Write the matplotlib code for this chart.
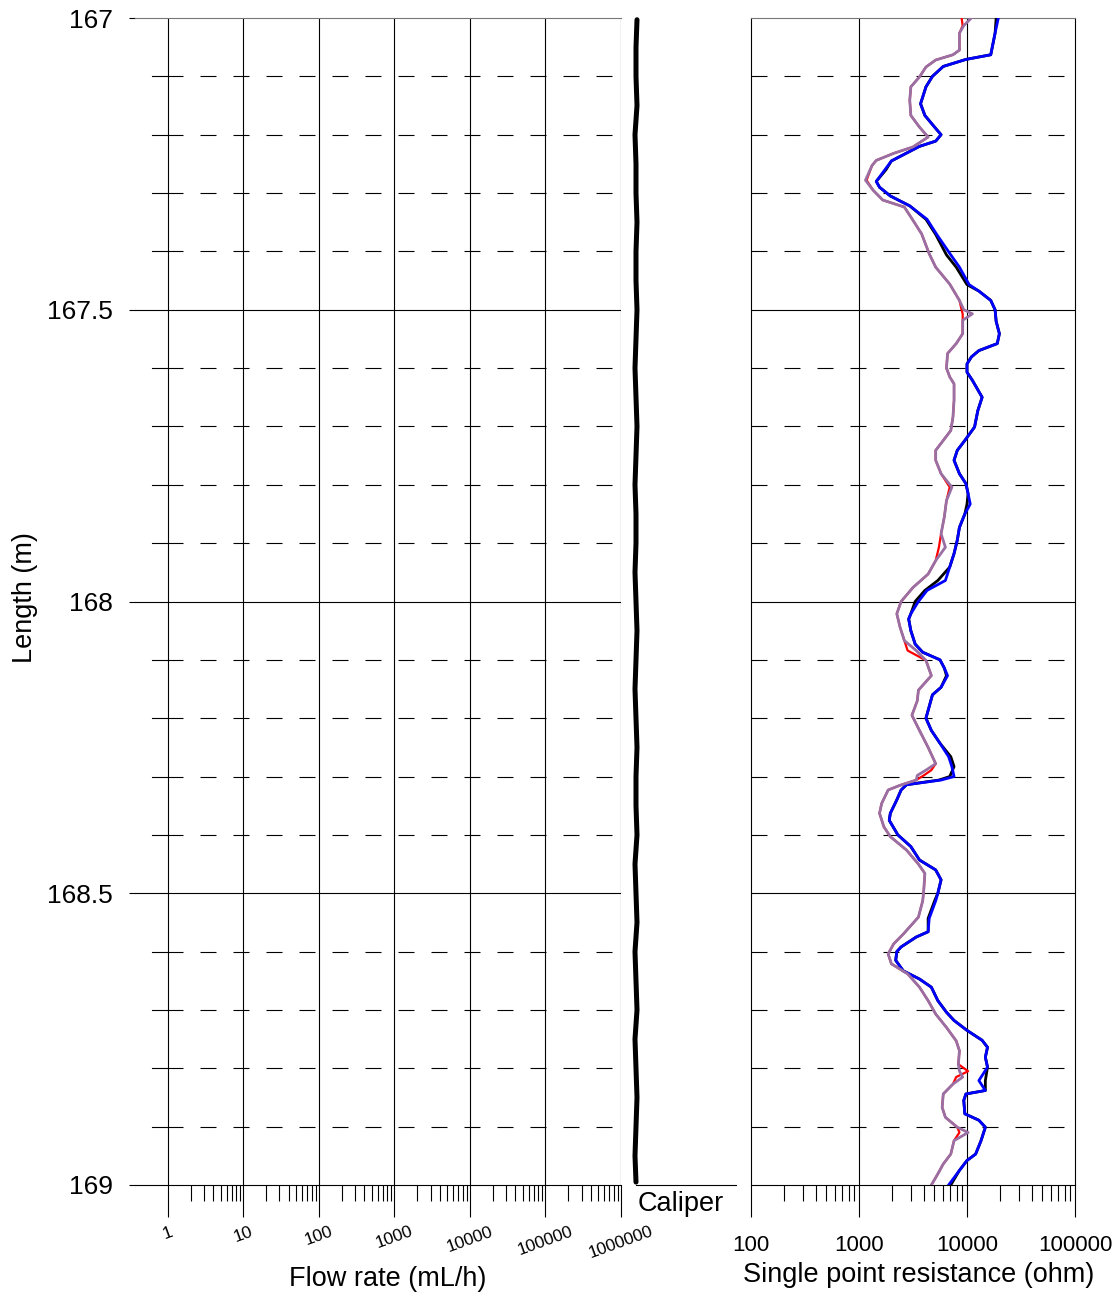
import matplotlib

matplotlib.use("Agg")
import matplotlib.pyplot as plt
import numpy as np

plt.rcParams["font.family"] = ["Liberation Sans", "DejaVu Sans"]
plt.rcParams["lines.scale_dashes"] = False

W, H = 1119, 1297

# flow rate panel (empty log axis)
flow_ticks = [1, 10, 100, 1000, 10000, 100000, 1000000]
flow_labels = ["1", "10", "100", "1000", "10000", "100000", "1000000"]

# single point resistance panel
spr_ticks = [100, 1000, 10000, 100000]
spr_labels = ["100", "1000", "10000", "100000"]

depth_ticks = [167, 167.5, 168, 168.5, 169]
depth_labels = ["167", "167.5", "168", "168.5", "169"]

# black / blue curves (log10 ohm)
bb_depth = [
    167.000, 167.026, 167.063, 167.071, 167.083, 167.100, 167.118, 167.147, 167.167, 167.187,
    167.200, 167.211, 167.220, 167.245, 167.260, 167.280, 167.290, 167.305, 167.322, 167.345,
    167.371, 167.406, 167.427, 167.457, 167.468, 167.484, 167.500, 167.520, 167.541, 167.558,
    167.570, 167.581, 167.593, 167.607, 167.621, 167.650, 167.673, 167.701, 167.724, 167.741,
    167.758, 167.781, 167.798, 167.815, 167.833, 167.850, 167.873, 167.895, 167.918, 167.941,
    167.964, 167.981, 168.000, 168.021, 168.030, 168.050, 168.073, 168.087, 168.100, 168.114,
    168.127, 168.147, 168.160, 168.180, 168.200, 168.221, 168.243, 168.266, 168.283, 168.300,
    168.306, 168.314, 168.323, 168.340, 168.363, 168.375, 168.400, 168.420, 168.443, 168.460,
    168.477, 168.500, 168.513, 168.543, 168.566, 168.575, 168.592, 168.600, 168.615, 168.633,
    168.647, 168.661, 168.684, 168.704, 168.718, 168.735, 168.752, 168.764, 168.781, 168.798,
    168.821, 168.838, 168.844, 168.855, 168.878, 168.889, 168.901, 168.924, 168.947, 168.958,
    168.975, 169.000,
]
black_log = [
    4.27, 4.26, 4.22, 3.99, 3.78, 3.68, 3.62, 3.57, 3.61, 3.70,
    3.76, 3.71, 3.56, 3.30, 3.25, 3.16, 3.19, 3.29, 3.47, 3.62,
    3.71, 3.81, 3.90, 4.00, 4.11, 4.22, 4.26, 4.27, 4.30, 4.28,
    4.11, 4.04, 4.00, 4.00, 4.05, 4.14, 4.10, 4.07, 3.98, 3.91,
    3.88, 3.93, 3.99, 4.01, 4.00, 3.98, 3.93, 3.91, 3.88, 3.84,
    3.73, 3.61, 3.52, 3.48, 3.46, 3.48, 3.52, 3.59, 3.75, 3.79,
    3.81, 3.76, 3.68, 3.65, 3.62, 3.67, 3.75, 3.85, 3.88, 3.84,
    3.74, 3.44, 3.39, 3.35, 3.29, 3.28, 3.36, 3.48, 3.56, 3.71,
    3.76, 3.73, 3.70, 3.64, 3.64, 3.53, 3.39, 3.35, 3.34, 3.41,
    3.56, 3.67, 3.73, 3.81, 3.88, 4.00, 4.14, 4.19, 4.17, 4.19,
    4.17, 4.17, 3.99, 3.97, 3.98, 4.11, 4.17, 4.13, 4.08, 4.00,
    3.93, 3.85,
]
blue_log = [
    4.29, 4.26, 4.22, 3.99, 3.78, 3.68, 3.62, 3.57, 3.61, 3.70,
    3.76, 3.71, 3.56, 3.30, 3.24, 3.16, 3.19, 3.29, 3.47, 3.63,
    3.72, 3.85, 3.93, 4.02, 4.11, 4.22, 4.26, 4.27, 4.30, 4.28,
    4.11, 4.04, 4.00, 4.00, 4.05, 4.14, 4.10, 4.07, 3.98, 3.91,
    3.88, 3.93, 3.99, 4.01, 4.03, 3.98, 3.93, 3.91, 3.88, 3.84,
    3.80, 3.63, 3.55, 3.48, 3.46, 3.48, 3.52, 3.59, 3.75, 3.79,
    3.82, 3.76, 3.68, 3.65, 3.62, 3.67, 3.75, 3.83, 3.86, 3.88,
    3.76, 3.44, 3.39, 3.35, 3.29, 3.28, 3.36, 3.48, 3.56, 3.71,
    3.76, 3.73, 3.71, 3.65, 3.64, 3.53, 3.39, 3.35, 3.34, 3.41,
    3.56, 3.67, 3.73, 3.81, 3.88, 4.00, 4.14, 4.19, 4.17, 4.19,
    4.11, 4.17, 3.99, 3.97, 3.98, 4.11, 4.17, 4.13, 4.08, 4.00,
    3.93, 3.83,
]

# red / purple curves (log10 ohm)
rp_depth = [
    167.000, 167.013, 167.026, 167.055, 167.063, 167.072, 167.084, 167.101, 167.118, 167.141,
    167.167, 167.187, 167.204, 167.221, 167.232, 167.244, 167.253, 167.278, 167.295, 167.312,
    167.324, 167.341, 167.370, 167.404, 167.427, 167.456, 167.484, 167.500, 167.507, 167.518,
    167.541, 167.558, 167.575, 167.600, 167.615, 167.627, 167.655, 167.684, 167.707, 167.724,
    167.741, 167.758, 167.781, 167.804, 167.827, 167.855, 167.884, 167.907, 167.930, 167.953,
    167.976, 168.000, 168.021, 168.044, 168.067, 168.084, 168.101, 168.127, 168.152, 168.170,
    168.195, 168.221, 168.250, 168.278, 168.289, 168.298, 168.306, 168.315, 168.323, 168.346,
    168.363, 168.386, 168.403, 168.426, 168.450, 168.466, 168.494, 168.513, 168.541, 168.570,
    168.587, 168.604, 168.621, 168.638, 168.661, 168.684, 168.707, 168.730, 168.753, 168.770,
    168.793, 168.805, 168.815, 168.827, 168.844, 168.867, 168.884, 168.901, 168.910, 168.924,
    168.947, 168.964, 168.981, 169.000,
]
red_log = [
    3.95, 3.96, 3.93, 3.93, 3.87, 3.71, 3.62, 3.56, 3.48, 3.47,
    3.48, 3.56, 3.64, 3.50, 3.32, 3.16, 3.12, 3.07, 3.13, 3.22,
    3.42, 3.48, 3.58, 3.65, 3.71, 3.84, 3.93, 3.95, 3.96, 3.96,
    3.96, 3.90, 3.82, 3.81, 3.84, 3.88, 3.88, 3.87, 3.85, 3.78,
    3.71, 3.71, 3.76, 3.84, 3.81, 3.79, 3.76, 3.74, 3.71, 3.64,
    3.50, 3.39, 3.35, 3.38, 3.42, 3.45, 3.62, 3.67, 3.55, 3.54,
    3.49, 3.56, 3.64, 3.71, 3.67, 3.60, 3.53, 3.38, 3.27, 3.21,
    3.19, 3.23, 3.29, 3.44, 3.55, 3.61, 3.60, 3.59, 3.55, 3.41,
    3.32, 3.27, 3.30, 3.45, 3.56, 3.64, 3.71, 3.81, 3.90, 3.93,
    3.92, 4.01, 3.90, 3.87, 3.78, 3.77, 3.80, 3.91, 3.93, 3.88,
    3.85, 3.78, 3.73, 3.67,
]
purple_log = [
    4.04, 3.97, 3.93, 3.93, 3.87, 3.71, 3.62, 3.56, 3.48, 3.47,
    3.48, 3.56, 3.64, 3.50, 3.32, 3.16, 3.12, 3.06, 3.13, 3.22,
    3.42, 3.48, 3.58, 3.65, 3.71, 3.84, 3.93, 3.97, 4.05, 3.96,
    3.96, 3.90, 3.82, 3.81, 3.84, 3.88, 3.88, 3.87, 3.85, 3.78,
    3.71, 3.71, 3.76, 3.86, 3.81, 3.79, 3.76, 3.80, 3.71, 3.64,
    3.50, 3.39, 3.35, 3.38, 3.42, 3.53, 3.62, 3.67, 3.55, 3.54,
    3.49, 3.56, 3.64, 3.71, 3.62, 3.54, 3.53, 3.38, 3.27, 3.21,
    3.19, 3.23, 3.29, 3.44, 3.55, 3.61, 3.60, 3.59, 3.55, 3.41,
    3.32, 3.27, 3.30, 3.45, 3.56, 3.64, 3.71, 3.81, 3.90, 3.93,
    3.92, 3.93, 3.96, 3.87, 3.78, 3.77, 3.80, 3.91, 4.01, 3.88,
    3.85, 3.78, 3.73, 3.67,
]

# caliper (mm)
caliper_depth = [
    167.003, 167.05, 167.10, 167.15, 167.20, 167.25, 167.30, 167.35, 167.40, 167.45,
    167.50, 167.55, 167.60, 167.65, 167.70, 167.75, 167.80, 167.85, 167.90, 167.95,
    168.00, 168.05, 168.10, 168.15, 168.20, 168.25, 168.30, 168.35, 168.40, 168.45,
    168.50, 168.55, 168.60, 168.65, 168.70, 168.75, 168.80, 168.85, 168.90, 168.95,
    168.995,
]
caliper_mm = [
    75.91, 75.90, 75.90, 75.91, 75.89, 75.90, 75.90, 75.91, 75.90, 75.90,
    75.91, 75.90, 75.89, 75.90, 75.91, 75.90, 75.89, 75.90, 75.90, 75.89,
    75.90, 75.91, 75.90, 75.89, 75.90, 75.91, 75.90, 75.90, 75.91, 75.89,
    75.90, 75.91, 75.89, 75.90, 75.91, 75.89, 75.90, 75.91, 75.90, 75.89,
    75.90,
]

TOP, BOTTOM = 18, 1185
PX = 72 / 100  # points per pixel


def rect(x0: float, x1: float) -> list[float]:
    return [x0 / W, 1 - BOTTOM / H, (x1 - x0) / W, (BOTTOM - TOP) / H]


def depth_grid(ax, x_start: float = 0.0) -> None:
    for d in [167.5, 168.0, 168.5]:
        ax.axhline(d, color="black", lw=0.8, zorder=1)
    for i in range(1, 20):
        if i % 5 == 0:
            continue
        ax.axhline(167 + i * 0.1, xmin=x_start, xmax=1, color="black", lw=0.8,
                   linestyle=(0, (16 * PX, 17 * PX)), zorder=1)


def log_ticks(ax, majors: list[float], labels: list[str], size: float, rot: float, pad: float) -> None:
    minors = [m * k for m in majors[:-1] for k in range(2, 10)]
    ax.set_xticks(majors)
    ax.set_xticklabels(labels, fontsize=size, rotation=rot)
    ax.set_xticks(minors, minor=True)
    ax.xaxis.set_minor_formatter(plt.NullFormatter())
    ax.tick_params(axis="x", which="major", length=32 * PX, width=0.8, pad=pad, direction="out")
    ax.tick_params(axis="x", which="minor", length=16 * PX, width=0.8, direction="out")


fig = plt.figure(figsize=(W / 100, H / 100), dpi=100)

# --- flow rate panel
ax_flow = fig.add_axes(rect(135, 621))
ax_flow.set_xscale("log")
ax_flow.set_xlim(0.366, 1e6)
ax_flow.set_ylim(169, 167)
for v in flow_ticks:
    ax_flow.axvline(v, color="black", lw=0.8, zorder=1)
depth_grid(ax_flow, x_start=(167 - 135) / (621 - 135))
for i in range(1, 20):
    if i % 5:
        ax_flow.axhline(167 + i * 0.1, xmin=(152 - 135) / 486, xmax=(167 - 135) / 486,
                        color="black", lw=0.8, zorder=1)
log_ticks(ax_flow, flow_ticks, flow_labels, 12.5, 20, 5)
ax_flow.set_yticks(depth_ticks)
ax_flow.set_yticklabels(depth_labels, fontsize=19)
ax_flow.tick_params(axis="y", length=4, width=0.8, pad=12)
ax_flow.spines["left"].set_visible(False)
ax_flow.spines["right"].set_visible(False)
ax_flow.spines["top"].set_color("#777777")
ax_flow.spines["bottom"].set_linewidth(0.8)

# --- caliper panel
ax_cal = fig.add_axes(rect(636, 736))
ax_cal.set_xlim(75.9, 76.9)
ax_cal.set_ylim(169, 167)
ax_cal.plot(caliper_mm, caliper_depth, color="black", lw=3.6, clip_on=False,
            solid_capstyle="round")
for s in ["left", "right", "top"]:
    ax_cal.spines[s].set_visible(False)
ax_cal.spines["bottom"].set_linewidth(0.8)
ax_cal.set_xticks([])
ax_cal.set_yticks([])
ax_cal.patch.set_alpha(0)

# --- single point resistance panel
ax_spr = fig.add_axes(rect(751, 1075))
ax_spr.set_xscale("log")
ax_spr.set_xlim(100, 1e5)
ax_spr.set_ylim(169, 167)
for v in [1000, 10000]:
    ax_spr.axvline(v, color="black", lw=0.8, zorder=1)
depth_grid(ax_spr)
ax_spr.plot(10 ** np.array(black_log), bb_depth, color="black", lw=2.0, zorder=3)
ax_spr.plot(10 ** np.array(blue_log), bb_depth, color="#0000ff", lw=2.0, zorder=4)
ax_spr.plot(10 ** np.array(red_log), rp_depth, color="#ff0000", lw=1.6, zorder=3)
ax_spr.plot(10 ** np.array(purple_log), rp_depth, color="#9a6fa3", lw=2.0, zorder=4)
log_ticks(ax_spr, spr_ticks, spr_labels, 16, 0, 13)
ax_spr.set_yticks([])
ax_spr.spines["top"].set_color("#777777")
for s in ["left", "right", "bottom"]:
    ax_spr.spines[s].set_linewidth(0.8)

# --- labels
fig.text(388 / W, 1 - 1279 / H, "Flow rate (mL/h)", fontsize=19.5, ha="center", va="center")
fig.text(919 / W, 1 - 1275 / H, "Single point resistance (ohm)", fontsize=19.5,
         ha="center", va="center")
fig.text(25 / W, 1 - 598 / H, "Length (m)", fontsize=19.5, rotation=90, ha="center", va="center")
fig.text(638 / W, 1 - 1204 / H, "Caliper", fontsize=19.5, ha="left", va="center")

fig.savefig("out.png", dpi=100)
